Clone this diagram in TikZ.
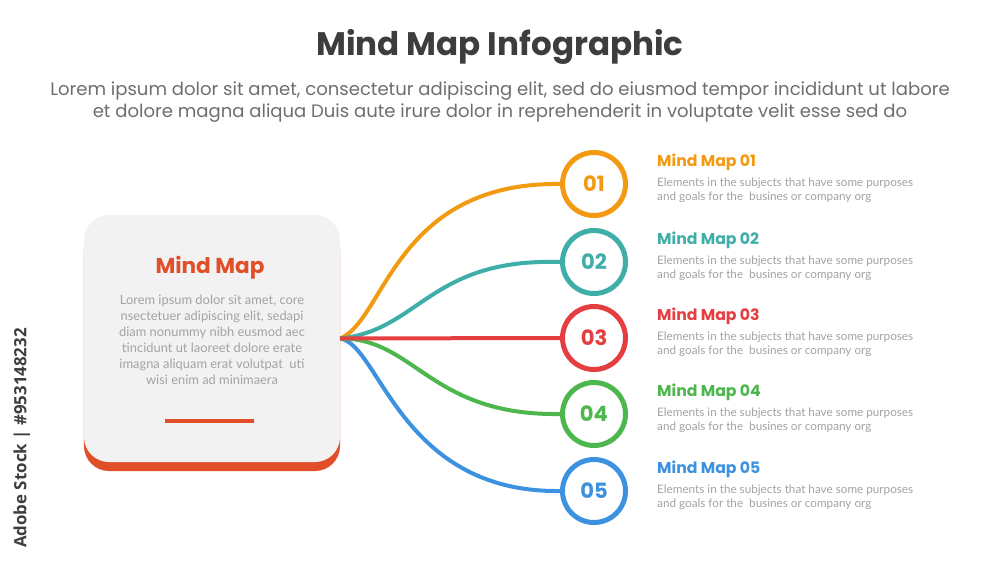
\documentclass[tikz,border=0pt]{standalone}
\usepackage{fontspec}
\usepackage{xcolor}
\setmainfont{Poppins}
\newfontfamily\latofnt{Lato}
\newfontfamily\stockfnt{Open Sans}
\definecolor{mmorange}{HTML}{F29A12}
\definecolor{mmteal}{HTML}{3FAEA9}
\definecolor{mmred}{HTML}{E53E41}
\definecolor{mmgreen}{HTML}{4DB74D}
\definecolor{mmblue}{HTML}{3D92E0}
\definecolor{mmbrick}{HTML}{E14F28}
\definecolor{mmpanel}{HTML}{F2F2F2}
\definecolor{mmdark}{HTML}{3D3D3D}
\definecolor{mmsub}{HTML}{6E6E6E}
\definecolor{mmbody}{HTML}{A3A3A3}
\newcommand{\ringx}{594}
\newcommand{\ringya}{184}
\newcommand{\ringyb}{262}
\newcommand{\ringyc}{338}
\newcommand{\ringyd}{414}
\newcommand{\ringye}{491}
\newcommand{\txtx}{657}
\newcommand{\headof}{-22}
\newcommand{\bodyof}{6.5}
\newcommand{\itemtext}{Elements in the subjects that have some purposes\\
  and goals for the\ \ busines or company org}

\begin{document}
\begin{tikzpicture}[x=0.03cm,y=-0.03cm,
    panel/.style={rectangle,rounded corners=0.75cm,fill=mmpanel,
      minimum width=7.68cm,minimum height=7.41cm,inner sep=0pt},
    ring/.style={circle,draw,line width=0.15cm,minimum size=1.89cm,
      inner sep=0pt,fill=white,font=\bfseries\fontsize{18}{18}\selectfont},
    link/.style={line width=0.12cm},
    head/.style={anchor=west,inner sep=0pt,
      font=\bfseries\fontsize{13.4}{15}\selectfont},
    body/.style={anchor=west,inner sep=0pt,align=left,text=mmbody,
      font=\latofnt\fontsize{10}{11.9}\selectfont}]
    \useasboundingbox[fill=white] (0,0) rectangle (1000,563);

    \node (title) at (500,47)
      [text=mmdark,font=\bfseries\fontsize{27.8}{33}\selectfont] {Mind Map Infographic};
    \node (subtitle) at (500,102) [text=mmsub,align=center,
      font=\fontsize{15.4}{18.8}\selectfont]
      {Lorem ipsum dolor sit amet, consectetur adipiscing elit, sed do eiusmod tempor incididunt ut labore\\
      et dolore magna aliqua Duis aute irure dolor in reprehenderit in voluptate velit esse sed do};

    \node (stock) at (22,438) [rotate=90,text=mmdark,
      font=\stockfnt\bfseries\fontsize{14.4}{14}\selectfont] {Adobe Stock | \#953148232};

    \node (mmbase) at (212,347.5) [panel,fill=mmbrick] {};
    \node (mm) at (212,338.5) [panel] {};
    \node (mmtitle) at (210,268)
      [text=mmbrick,font=\bfseries\fontsize{18.4}{22}\selectfont] {Mind Map};
    \node (mmtext) at (212,340) [align=center,text=mmbody,
      font=\latofnt\fontsize{11}{13.6}\selectfont]
      {Lorem ipsum dolor sit amet, core\\
      nsectetuer adipiscing elit, sedapi\\
      diam nonummy nibh eusmod aec\\
      tincidunt ut laoreet dolore erate\\
      imagna aliquam erat volutpat\ \ uti\\
      wisi enim ad minimaera};
    \draw[mmbrick,line width=0.12cm] (165,421) -- (254,421);

    \node (c1) at (\ringx,\ringya) [ring,draw=mmorange,text=mmorange] {01};
    \node (c2) at (\ringx,\ringyb) [ring,draw=mmteal,text=mmteal] {02};
    \node (c3) at (\ringx,\ringyc) [ring,draw=mmred,text=mmred] {03};
    \node (c4) at (\ringx,\ringyd) [ring,draw=mmgreen,text=mmgreen] {04};
    \node (c5) at (\ringx,\ringye) [ring,draw=mmblue,text=mmblue] {05};

    \draw[link,mmorange] (mm.east) .. controls (385,320) and (395,182) .. (c1.west);
    \draw[link,mmteal] (mm.east) .. controls (420,330) and (430,258) .. (c2.west);
    \draw[link,mmblue] (mm.east) .. controls (380,345) and (400,493) .. (c5.west);
    \draw[link,mmgreen] (mm.east) .. controls (415,338) and (430,416) .. (c4.west);
    \draw[link,mmred] (mm.east) -- (c3.west);

    \node (h1) at (\txtx,\ringya+\headof) [head,text=mmorange] {Mind Map 01};
    \node (h2) at (\txtx,\ringyb+\headof) [head,text=mmteal] {Mind Map 02};
    \node (h3) at (\txtx,\ringyc+\headof) [head,text=mmred] {Mind Map 03};
    \node (h4) at (\txtx,\ringyd+\headof) [head,text=mmgreen] {Mind Map 04};
    \node (h5) at (\txtx,\ringye+\headof) [head,text=mmblue] {Mind Map 05};
    \node (b1) at (\txtx,\ringya+\bodyof) [body] {\itemtext};
    \node (b2) at (\txtx,\ringyb+\bodyof) [body] {\itemtext};
    \node (b3) at (\txtx,\ringyc+\bodyof) [body] {\itemtext};
    \node (b4) at (\txtx,\ringyd+\bodyof) [body] {\itemtext};
    \node (b5) at (\txtx,\ringye+\bodyof) [body] {\itemtext};
  \end{tikzpicture}
\end{document}
